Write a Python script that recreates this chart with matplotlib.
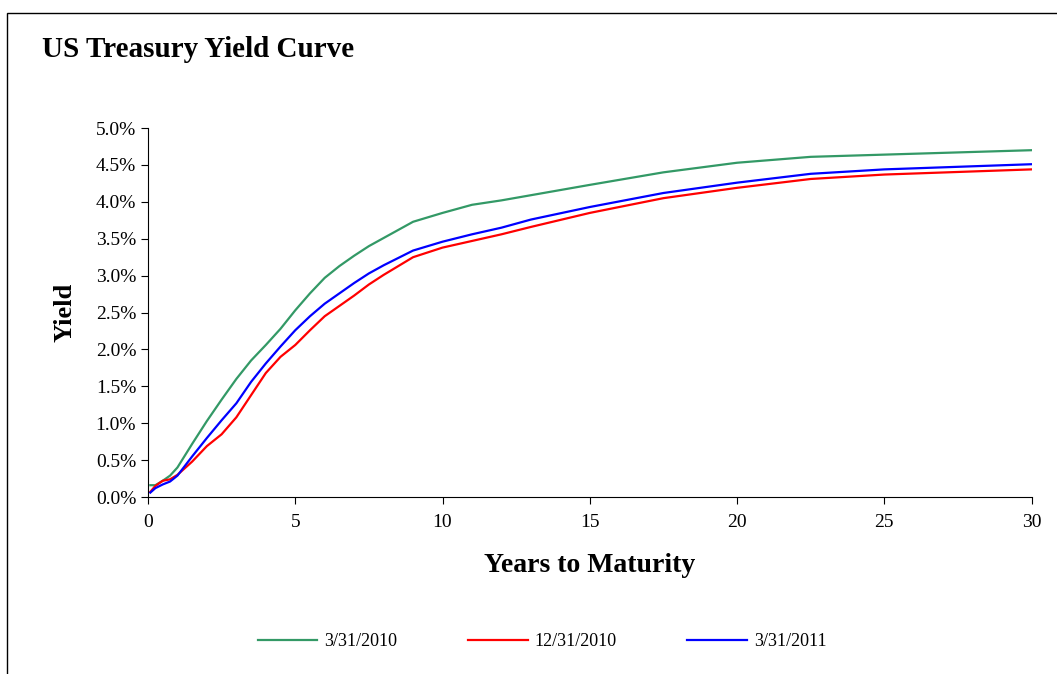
import matplotlib.pyplot as plt
from matplotlib.patches import Rectangle
from matplotlib.ticker import FuncFormatter

plt.rcParams['font.family'] = ['Liberation Serif', 'DejaVu Serif']

# years to maturity and yields (%)
years = [0.08, 0.25, 0.5, 0.75, 1, 1.5, 2, 2.5, 3, 3.5, 4, 4.5, 5, 5.5, 6,
         6.5, 7, 7.5, 8, 9, 10, 11, 12, 13, 15, 17.5, 20, 22.5, 25, 30]
y_mar2010 = [0.16, 0.16, 0.22, 0.29, 0.40, 0.72, 1.03, 1.32, 1.60, 1.85, 2.06,
             2.28, 2.53, 2.76, 2.97, 3.13, 3.27, 3.40, 3.51, 3.73, 3.85, 3.96,
             4.02, 4.09, 4.23, 4.40, 4.53, 4.61, 4.64, 4.70]
y_dec2010 = [0.07, 0.15, 0.22, 0.24, 0.30, 0.48, 0.69, 0.85, 1.08, 1.38, 1.68,
             1.90, 2.06, 2.26, 2.45, 2.59, 2.73, 2.88, 3.01, 3.25, 3.38, 3.47,
             3.56, 3.66, 3.85, 4.05, 4.19, 4.31, 4.37, 4.44]
y_mar2011 = [0.06, 0.12, 0.17, 0.21, 0.29, 0.55, 0.80, 1.04, 1.27, 1.56, 1.81,
             2.04, 2.26, 2.45, 2.62, 2.76, 2.90, 3.03, 3.14, 3.34, 3.46, 3.56,
             3.65, 3.76, 3.93, 4.12, 4.26, 4.38, 4.44, 4.51]
labels = ['3/31/2010', '12/31/2010', '3/31/2011']

fig = plt.figure(figsize=(10.57, 6.74), dpi=100)
ax = fig.add_axes([0.14, 0.2626, 0.836, 0.5474])

ax.plot(years, [v / 100 for v in y_mar2010], color='#339966', lw=1.6, label=labels[0])
ax.plot(years, [v / 100 for v in y_dec2010], color='#FF0000', lw=1.6, label=labels[1])
ax.plot(years, [v / 100 for v in y_mar2011], color='#0000FF', lw=1.6, label=labels[2])

ax.set_xlim(0, 30)
ax.set_ylim(0, 0.05)
ax.set_xticks(range(0, 31, 5))
ax.set_yticks([i * 0.005 for i in range(11)])
ax.yaxis.set_major_formatter(FuncFormatter(lambda v, p: f"{v*100:.1f}%"))
ax.tick_params(labelsize=14, direction='out', length=5)
ax.tick_params(axis='x', pad=7)
ax.spines['top'].set_visible(False)
ax.spines['right'].set_visible(False)

ax.set_xlabel('Years to Maturity', fontsize=20, fontweight='bold', labelpad=16)
ax.set_ylabel('Yield', fontsize=19, fontweight='bold', labelpad=14)

fig.text(42 / 1057, 1 - 57 / 674, 'US Treasury Yield Curve', fontsize=21,
         fontweight='bold', ha='left', va='baseline')

# outer chart border
fig.patches.append(Rectangle((7 / 1057, -0.05), 1.2, 1 - 13 / 674 + 0.05,
                             transform=fig.transFigure, fill=False,
                             edgecolor='black', lw=1))

fig.legend(loc='center', bbox_to_anchor=(0.513, 1 - 642 / 674), ncol=3,
           frameon=False, fontsize=13, handlelength=3.3, columnspacing=3.9,
           handletextpad=0.4)

fig.savefig('out.png', dpi=100)
